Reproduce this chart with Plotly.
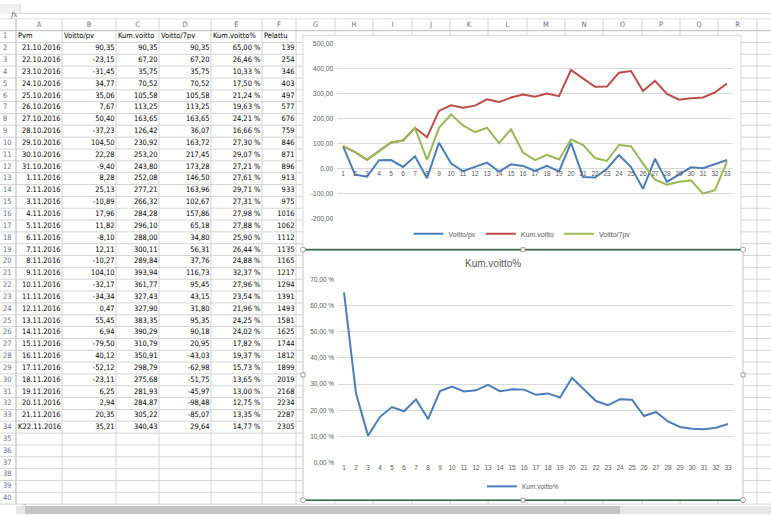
import plotly.graph_objects as go

# ---- taulukon data (Excel-sivu) ----
pvm = ["21.10.2016", "22.10.2016", "23.10.2016", "24.10.2016", "25.10.2016",
       "26.10.2016", "27.10.2016", "28.10.2016", "29.10.2016", "30.10.2016",
       "31.10.2016", "1.11.2016", "2.11.2016", "3.11.2016", "4.11.2016",
       "5.11.2016", "6.11.2016", "7.11.2016", "8.11.2016", "9.11.2016",
       "10.11.2016", "11.11.2016", "12.11.2016", "13.11.2016", "14.11.2016",
       "15.11.2016", "16.11.2016", "17.11.2016", "18.11.2016", "19.11.2016",
       "20.11.2016", "21.11.2016", "K22.11.2016"]
voitto_pv = [90.35, -23.15, -31.45, 34.77, 35.06, 7.67, 50.40, -37.23, 104.50, 22.28,
             -9.40, 8.28, 25.13, -10.89, 17.96, 11.82, -8.10, 12.11, -10.27, 104.10,
             -32.17, -34.34, 0.47, 55.45, 6.94, -79.50, 40.12, -52.12, -23.11, 6.25,
             2.94, 20.35, 35.21]
kum_voitto = [90.35, 67.20, 35.75, 70.52, 105.58, 113.25, 163.65, 126.42, 230.92, 253.20,
              243.80, 252.08, 277.21, 266.32, 284.28, 296.10, 288.00, 300.11, 289.84, 393.94,
              361.77, 327.43, 327.90, 383.35, 390.29, 310.79, 350.91, 298.79, 275.68, 281.93,
              284.87, 305.22, 340.43]
voitto_7pv = [90.35, 67.20, 35.75, 70.52, 105.58, 113.25, 163.65, 36.07, 163.72, 217.45,
              173.28, 146.50, 163.96, 102.67, 157.86, 65.18, 34.80, 56.31, 37.76, 116.73,
              95.45, 43.15, 31.80, 95.35, 90.18, 20.95, -43.03, -62.98, -51.75, -45.97,
              -98.48, -85.07, 29.64]
kum_voitto_pct = [65.00, 26.46, 10.33, 17.50, 21.24, 19.63, 24.21, 16.66, 27.30, 29.07,
                  27.21, 27.61, 29.71, 27.31, 27.98, 27.88, 25.90, 26.44, 24.88, 32.37,
                  27.96, 23.54, 21.96, 24.25, 24.02, 17.82, 19.37, 15.73, 13.65, 13.00,
                  12.75, 13.35, 14.77]
pelattu = [139, 254, 346, 403, 497, 577, 676, 759, 846, 871, 896, 913, 933, 975, 1016,
           1062, 1112, 1135, 1165, 1217, 1294, 1391, 1493, 1581, 1625, 1744, 1812, 1899,
           2019, 2168, 2234, 2287, 2305]
otsikot = ["Pvm", "Voitto/pv", "Kum.voitto", "Voitto/7pv", "Kum.voitto%", "Pelattu"]
sarakkeet = list("ABCDEFGHIJKLMNOPQR")
rivinumerot = list(range(1, 41))

paiva = list(range(1, 34))                       # kaavioiden kategoriat
ylin_ticks = [500, 400, 300, 200, 100, 0, -100, -200]
pct_ticks = [0, 10, 20, 30, 40, 50, 60, 70]

# ---- mitat (pikseleinä) ----
W, H = 771, 517
RIVI = 12
RIVI0 = 27
reunat = [0, 16, 62, 116, 159, 211, 262, 296, 335, 373, 412, 450, 488, 527,
          565, 603, 642, 680, 718, 757, 795]
GRID = "#d4d4d4"
SININEN, PUNAINEN, VIHREA = "#4a7ebb", "#be4b48", "#98b954"
HARMAA = "#595959"
FONTTI = "Liberation Sans"
SOLUFONTTI = "DejaVu Sans Condensed, Liberation Sans"


def fi(v):
    return f"{v:.2f}".replace(".", ",")


def py(y):  # pikseli -> paperi
    return 1 - y / H


def keski(r):
    return RIVI0 + RIVI * (r - 1) + RIVI / 2


fig = go.Figure()

solu = dict(family=SOLUFONTTI, size=7.5, color="#000000")
otsake = dict(family=SOLUFONTTI, size=7.5, color="#6a7488")


def teksti(x, y, t, pos, font):
    fig.add_trace(go.Scatter(x=x, y=y, text=t, mode="text", textposition=pos,
                             textfont=font, xaxis="x", yaxis="y", showlegend=False,
                             hoverinfo="skip", cliponaxis=False))


# sarakeotsikot ja rivinumerot
teksti([(reunat[i + 1] + reunat[i + 2]) / 2 for i in range(len(sarakkeet))],
       [21] * len(sarakkeet), sarakkeet, "middle center", otsake)
teksti([3] * len(rivinumerot), [keski(r) for r in rivinumerot],
       [str(r) for r in rivinumerot], "middle right", otsake)
# rivi 1
teksti([reunat[i + 1] + 2 for i in range(len(otsikot))], [keski(1)] * len(otsikot),
       otsikot, "middle right", solu)

rivit = [r + 2 for r in range(len(pvm))]
pv_ok = [i for i, d in enumerate(pvm) if d[0].isdigit()]
pv_teksti = [i for i, d in enumerate(pvm) if not d[0].isdigit()]
teksti([reunat[2] - 1.5] * len(pv_ok), [keski(rivit[i]) for i in pv_ok],
       [pvm[i] for i in pv_ok], "middle left", solu)
teksti([reunat[1] + 2] * len(pv_teksti), [keski(rivit[i]) for i in pv_teksti],
       [pvm[i] for i in pv_teksti], "middle right", solu)

sarakedata = [
    [fi(v) for v in voitto_pv],
    [fi(v) for v in kum_voitto],
    [fi(v) for v in voitto_7pv],
    [fi(v) + " %" for v in kum_voitto_pct],
    [str(v) for v in pelattu],
]
for j, arvot in enumerate(sarakedata):
    teksti([reunat[j + 3] - 1.5] * len(arvot), [keski(r) for r in rivit], arvot,
           "middle left", solu)

# ---- kaavio 1 ----
for nimi, arvot, vari in [("Voitto/pv", voitto_pv, SININEN),
                          ("Kum.voitto", kum_voitto, PUNAINEN),
                          ("Voitto/7pv", voitto_7pv, VIHREA)]:
    fig.add_trace(go.Scatter(x=paiva, y=arvot, name=nimi, mode="lines",
                             line=dict(color=vari, width=2), xaxis="x2", yaxis="y2",
                             legend="legend", hoverinfo="skip"))

# ---- kaavio 2 ----
fig.add_trace(go.Scatter(x=paiva, y=kum_voitto_pct, name="Kum.voitto%", mode="lines",
                         line=dict(color=SININEN, width=2), xaxis="x3", yaxis="y3",
                         legend="legend2", hoverinfo="skip"))

# ---- taustan muodot ----
shapes = []


def viiva(x0, y0, x1, y1, c=GRID, w=1):
    shapes.append(dict(type="line", xref="x", yref="y", x0=x0, y0=y0, x1=x1, y1=y1,
                       line=dict(color=c, width=w), layer="below"))


def laatikko(x0, y0, x1, y1, fill, c=None, w=1, tyyppi="rect"):
    shapes.append(dict(type=tyyppi, xref="x", yref="y", x0=x0, y0=y0, x1=x1, y1=y1,
                       fillcolor=fill, line=dict(color=c or fill, width=w if c else 0),
                       layer="below"))


# kaavarivi
laatikko(0, 0, W, 10, "#f0f0f0")
laatikko(20, -1, W + 1, 9.5, "#ffffff", "#d6d6d6")
# ruudukko
for k in range(41):
    viiva(0, RIVI0 + RIVI * k, W, RIVI0 + RIVI * k)
for x in reunat[1:]:
    viiva(x, 15, x, RIVI0 + RIVI * 40)
viiva(0, 15, W, 15, "#e2e2e2")
viiva(0, RIVI0, W, RIVI0, "#c8c8c8")
viiva(reunat[1], 15, reunat[1], RIVI0 + RIVI * 40, "#c8c8c8")

# kaavioalueet
laatikko(303, 32, 741, 248, "#ffffff", "#d9d9d9")
laatikko(303, 249, 743, 503, "#ffffff", "#c4c4c4")
viiva(303, 249, 743, 249, "#2b6b45", 1.5)
viiva(303, 503, 743, 503, "#2b6b45", 1.5)
for (hx, hy) in [(303, 249), (743, 249), (303, 503), (743, 503)]:
    laatikko(hx - 2.5, hy - 2.5, hx + 2.5, hy + 2.5, "#ffffff", "#8a8a8a", 0.8, "circle")
for (hx, hy) in [(523, 249), (523, 503), (303, 376), (743, 376)]:
    laatikko(hx - 2, hy - 2, hx + 2, hy + 2, "#ffffff", "#8a8a8a", 0.8)

# vierityspalkki
laatikko(0, 508, W, H, "#ffffff")
laatikko(16, 509, W, H + 2, "#e6e6e6")
laatikko(25, 509, 620, H + 2, "#c4c4c4")

akselifontti = dict(family=FONTTI, size=6.5, color=HARMAA)

fig.update_layout(
    width=W, height=H,
    margin=dict(l=0, r=0, t=0, b=0),
    paper_bgcolor="#ffffff", plot_bgcolor="rgba(0,0,0,0)",
    showlegend=True,
    shapes=shapes,
    xaxis=dict(domain=[0, 1], range=[0, W], visible=False, fixedrange=True),
    yaxis=dict(domain=[0, 1], range=[H, 0], visible=False, fixedrange=True),
    xaxis2=dict(domain=[337 / W, 733 / W], range=[0.5, 33.5], tickvals=paiva,
                ticks="", showgrid=False, zeroline=False, showline=False,
                anchor="free", position=py(167), tickfont=akselifontti),
    yaxis2=dict(domain=[py(218), py(40)], range=[-200, 500], tickvals=ylin_ticks,
                ticktext=[fi(v) for v in ylin_ticks], gridcolor="#d9d9d9",
                zeroline=False, showline=False, ticks="", anchor="x2",
                tickfont=akselifontti, ticklabelstandoff=3),
    xaxis3=dict(domain=[338 / W, 734 / W], range=[0.5, 33.5], tickvals=paiva,
                ticks="", showgrid=False, zeroline=False, showline=False,
                anchor="y3", tickfont=akselifontti),
    yaxis3=dict(domain=[py(465), py(279)], range=[0, 70], tickvals=pct_ticks,
                ticktext=[fi(v) + " %" for v in pct_ticks], gridcolor="#d9d9d9",
                zeroline=False, showline=False, ticks="", anchor="x3",
                tickfont=akselifontti, ticklabelstandoff=3),
    legend=dict(orientation="h", x=522 / W, xanchor="center", y=py(233),
                yanchor="middle", font=dict(family=FONTTI, size=7, color=HARMAA),
                bgcolor="rgba(0,0,0,0)", itemwidth=30),
    legend2=dict(orientation="h", x=523 / W, xanchor="center", y=py(489),
                 yanchor="middle", font=dict(family=FONTTI, size=6.5, color=HARMAA),
                 bgcolor="rgba(0,0,0,0)", itemwidth=30),
    annotations=[
        dict(text="Kum.voitto%", x=523 / W, y=py(263), xref="paper", yref="paper",
             showarrow=False, font=dict(family=FONTTI, size=10, color=HARMAA)),
        dict(text="<i>fx</i>", x=8 / W, y=py(5), xref="paper", yref="paper",
             showarrow=False, font=dict(family="DejaVu Serif", size=7, color="#555555")),
        dict(text="<", x=21 / W, y=py(513), xref="paper", yref="paper",
             showarrow=False, font=dict(family=FONTTI, size=6, color="#9a9a9a")),
    ],
)

# sivun oletusmarginaali pois, jotta kuva alkaa vasemmasta yläkulmasta
fig.write_html("out.html", config={"displayModeBar": False},
               post_script="document.body.style.margin='0px';")
